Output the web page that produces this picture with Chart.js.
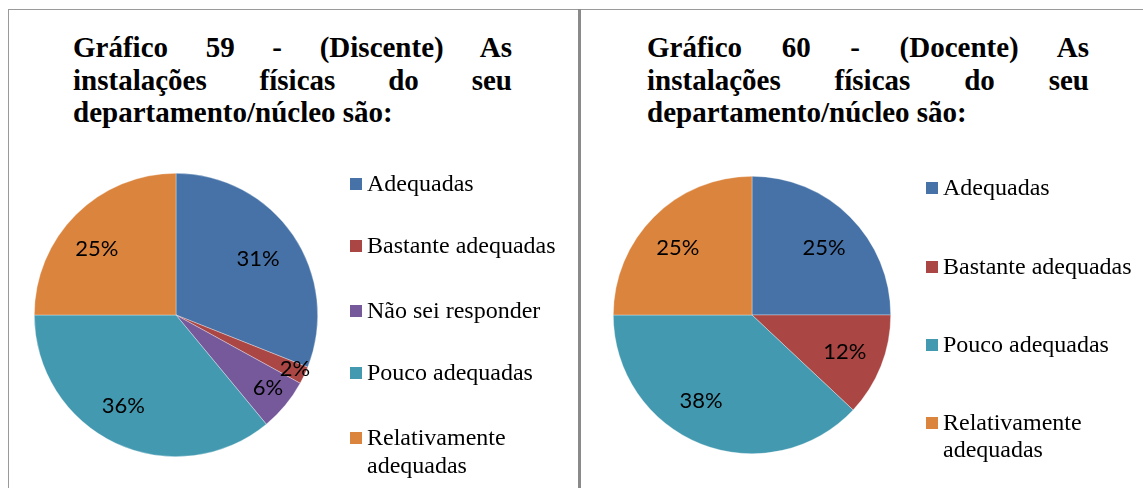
<!DOCTYPE html>
<html lang="pt">
<head>
<meta charset="utf-8">
<script src="https://cdn.jsdelivr.net/npm/chart.js@4"></script>
<style>
  html, body { margin: 0; padding: 0; background: #fff; }
  body { width: 1143px; height: 488px; position: relative; overflow: hidden; }
  .linha-topo { position: absolute; left: 8px; top: 9px; width: 1135px; height: 1px; background: #9a9a9a; }
  .borda-esq { position: absolute; left: 8px; top: 9px; width: 1px; height: 479px; background: #9a9a9a; }
  .divisoria { position: absolute; left: 578px; top: 9px; width: 3px; height: 479px; background: #8a8a8a; }
  .titulo {
    position: absolute; top: 31px; width: 439px;
    font-family: "Liberation Serif", "Times New Roman", serif;
    font-weight: bold; font-size: 29px; line-height: 32.5px; color: #000;
  }
  .titulo div { white-space: nowrap; }
  .titulo .just { text-align: justify; text-align-last: justify; white-space: normal; }
  canvas { position: absolute; }
</style>
</head>
<body>
<div class="linha-topo"></div>
<div class="borda-esq"></div>
<div class="divisoria"></div>

<div class="titulo" style="left:73px">
  <div class="just">Gráfico 59 - (Discente) As</div>
  <div class="just">instalações físicas do seu</div>
  <div>departamento/núcleo são:</div>
</div>
<div class="titulo" style="left:647px; width:442px">
  <div class="just">Gráfico 60 - (Docente) As</div>
  <div class="just">instalações físicas do seu</div>
  <div>departamento/núcleo são:</div>
</div>

<div style="position:absolute; left:9px; top:10px; width:568px; height:478px">
  <canvas id="graficoDiscente"></canvas>
</div>
<div style="position:absolute; left:581px; top:10px; width:562px; height:478px">
  <canvas id="graficoDocente"></canvas>
</div>

<script>
// Gráfico 59 - discentes
const categoriasDiscente = ['Adequadas', 'Bastante adequadas', 'Não sei responder', 'Pouco adequadas', 'Relativamente adequadas'];
const valoresDiscente = [31, 2, 6, 36, 25];

// Gráfico 60 - docentes
const categoriasDocente = ['Adequadas', 'Bastante adequadas', 'Pouco adequadas', 'Relativamente adequadas'];
const valoresDocente = [25, 12, 38, 25];

const AZUL = '#4672a7', VERMELHO = '#aa4644', ROXO = '#76599a', TURQUESA = '#4299b0', LARANJA = '#db843e';
const coresDiscente = [AZUL, VERMELHO, ROXO, TURQUESA, LARANJA];
const coresDocente = [AZUL, VERMELHO, TURQUESA, LARANJA];

// rótulos de % : [fração do raio, desvio angular em graus]
const posRotulosDiscente = [[0.70, 0], [0.92, -1], [0.83, -1], [0.74, 5], [0.73, -5]];
const posRotulosDocente = [[0.71, 2], [0.72, 0], [0.72, 9], [0.72, -3]];

const rotulosPct = {
  id: 'rotulosPct',
  afterDatasetsDraw(chart, args, opts) {
    const ctx = chart.ctx;
    const meta = chart.getDatasetMeta(0);
    const valores = chart.data.datasets[0].data;
    ctx.save();
    ctx.font = '22px Lato, "Open Sans", sans-serif';
    ctx.fillStyle = '#000';
    ctx.textAlign = 'center';
    ctx.textBaseline = 'middle';
    meta.data.forEach((arc, i) => {
      const p = arc.getProps(['x', 'y', 'startAngle', 'endAngle', 'outerRadius'], true);
      const [f, d] = opts.pos[i];
      const a = (p.startAngle + p.endAngle) / 2 + d * Math.PI / 180;
      const r = p.outerRadius * f;
      ctx.fillText(valores[i] + '%', p.x + Math.cos(a) * r, p.y + Math.sin(a) * r);
    });
    ctx.restore();
  }
};

// legenda desenhada à direita da pizza, com quebra de linha
const legendaLateral = {
  id: 'legendaLateral',
  afterDraw(chart, args, opts) {
    const ctx = chart.ctx;
    const labels = chart.data.labels;
    const cores = chart.data.datasets[0].backgroundColor;
    ctx.save();
    ctx.font = '24px "Liberation Serif", "Times New Roman", serif';
    ctx.textBaseline = 'middle';
    ctx.fillStyle = '#000';
    labels.forEach((txt, i) => {
      const y = opts.ys[i];
      ctx.fillStyle = cores[i];
      ctx.fillRect(opts.x, y - 6, 12, 12);
      ctx.fillStyle = '#000';
      // quebra simples por largura
      const linhas = [];
      let atual = '';
      txt.split(' ').forEach(w => {
        const teste = atual ? atual + ' ' + w : w;
        if (ctx.measureText(teste).width > opts.largura && atual) {
          linhas.push(atual);
          atual = w;
        } else {
          atual = teste;
        }
      });
      linhas.push(atual);
      linhas.forEach((l, k) => ctx.fillText(l, opts.x + 17, y + 1 + k * opts.entrelinha));
    });
    ctx.restore();
  }
};

function criaPizza(id, categorias, valores, cores, pos, padding, legenda) {
  return new Chart(document.getElementById(id), {
    type: 'pie',
    data: {
      labels: categorias,
      datasets: [{
        data: valores,
        backgroundColor: cores,
        borderColor: 'rgba(255,255,255,0.55)',
        borderWidth: 0.6
      }]
    },
    options: {
      responsive: true,
      maintainAspectRatio: false,
      animation: false,
      layout: { padding: padding },
      plugins: {
        legend: { display: false },
        tooltip: { enabled: false },
        title: { display: false },
        rotulosPct: { pos: pos },
        legendaLateral: legenda
      }
    },
    plugins: [rotulosPct, legendaLateral]
  });
}

criaPizza('graficoDiscente', categoriasDiscente, valoresDiscente, coresDiscente, posRotulosDiscente,
  { left: 25, right: 259, top: 163, bottom: 31 },
  { x: 341, ys: [174, 236, 301, 363, 428], largura: 195, entrelinha: 28 });

criaPizza('graficoDocente', categoriasDocente, valoresDocente, coresDocente, posRotulosDocente,
  { left: 32, right: 252, top: 166, bottom: 34 },
  { x: 345, ys: [178, 257, 335, 413], largura: 195, entrelinha: 27 });
</script>
</body>
</html>
